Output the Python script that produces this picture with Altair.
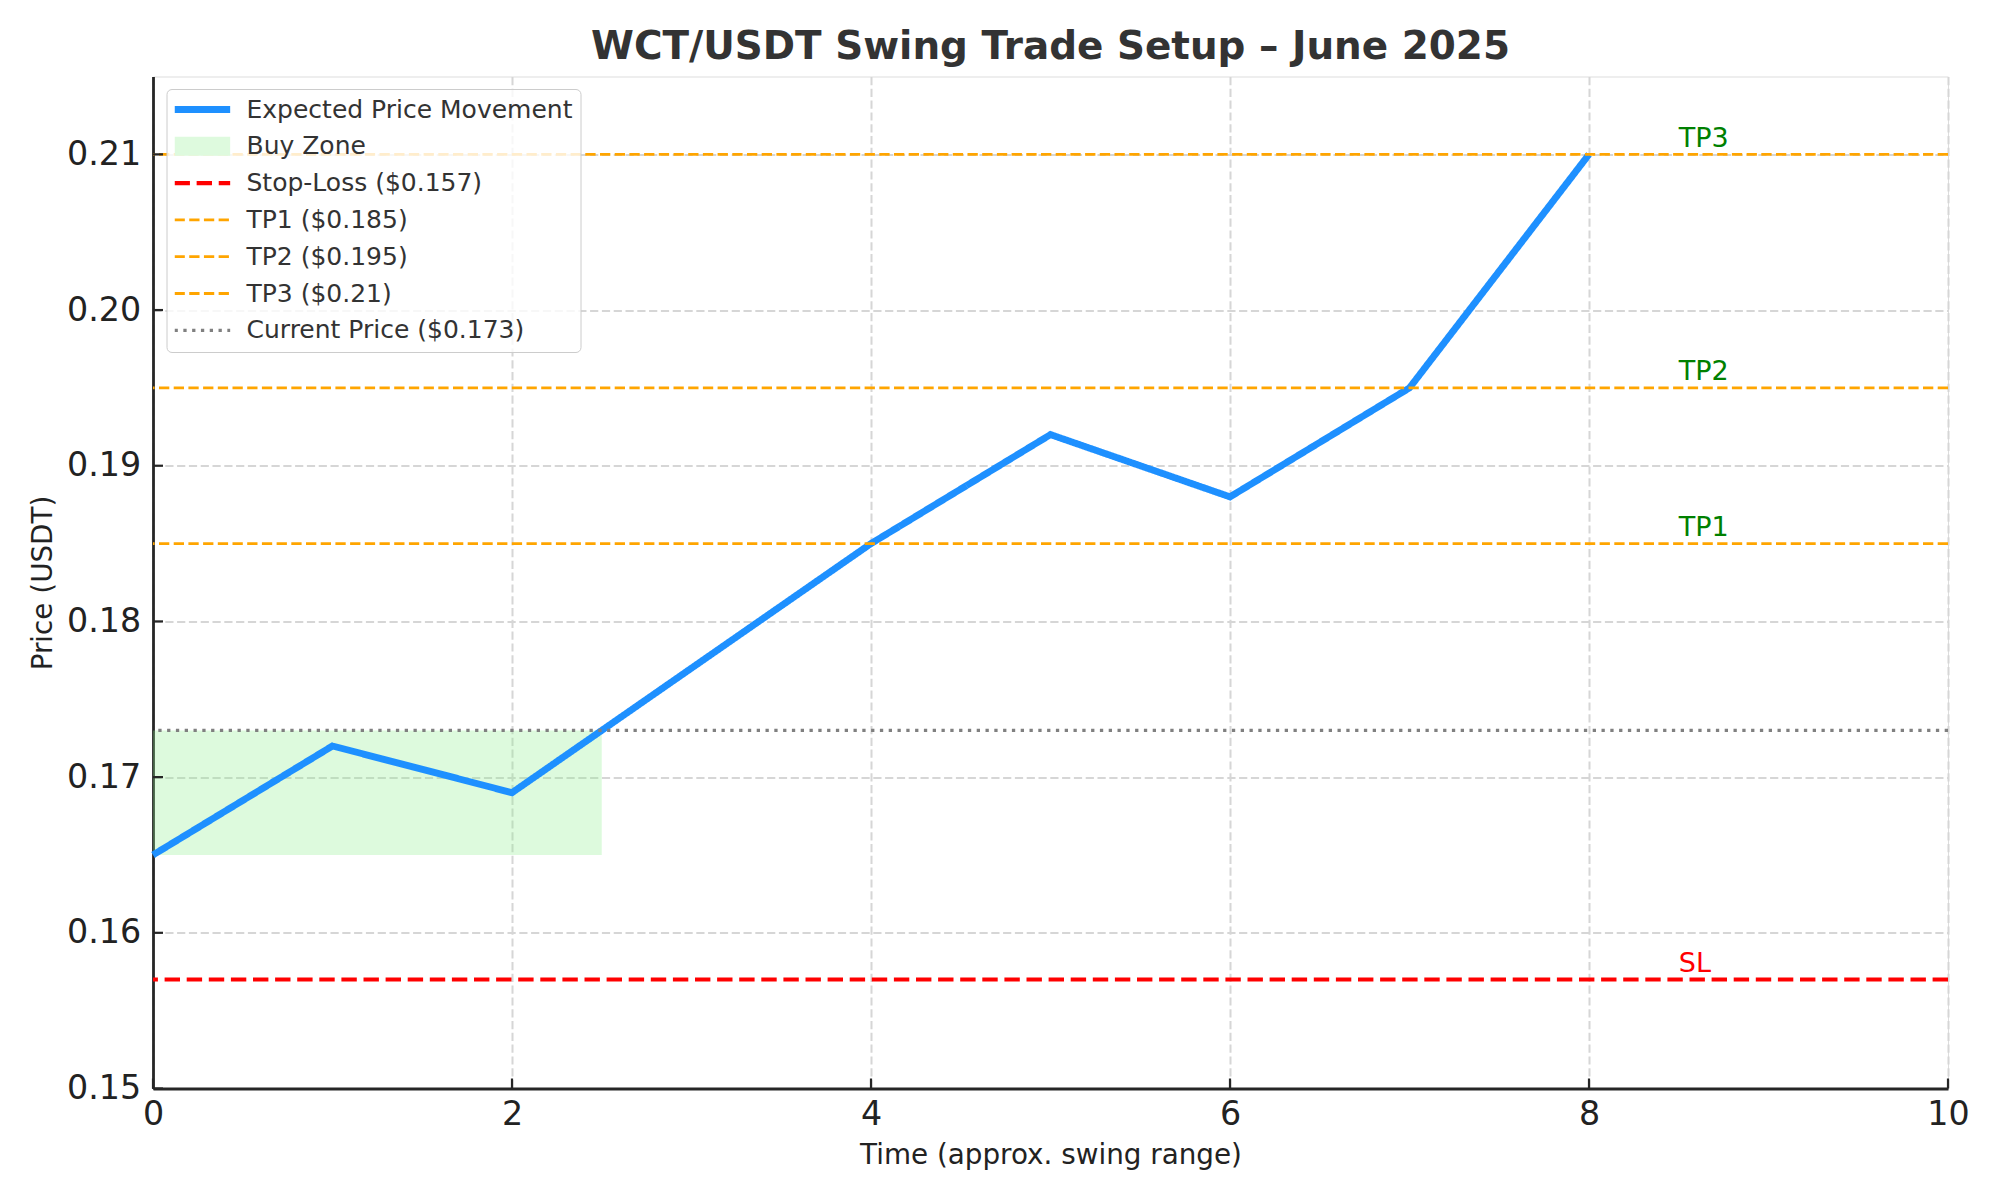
import altair as alt
import pandas as pd

FONT = "DejaVu Sans"

# ---- data ----
time_x = [0, 1, 2, 4, 5, 6, 7, 8]
price_y = [0.165, 0.172, 0.169, 0.185, 0.192, 0.188, 0.195, 0.21]

level_names = ["Stop-Loss ($0.157)", "TP1 ($0.185)", "TP2 ($0.195)", "TP3 ($0.21)", "Current Price ($0.173)"]
level_values = [0.157, 0.185, 0.195, 0.21, 0.173]

zone_x = [0, 2.5]
zone_y = [0.165, 0.173]

ann_text = ["TP1", "TP2", "TP3", "SL"]
ann_x = [8.5, 8.5, 8.5, 8.5]
ann_y = [0.1855, 0.1955, 0.2105, 0.1575]
ann_color = ["green", "green", "green", "red"]

legend_names = ["Expected Price Movement", "Buy Zone"] + level_names
legend_colors = ["#1E90FF", "#DEFADE", "red", "orange", "orange", "orange", "gray"]
legend_dash = [[1, 0], [1, 0], [15.4, 6.7], [10.3, 4.4], [10.3, 4.4], [10.3, 4.4], [3.3, 5.5]]
legend_width = [6.9, 19, 4.2, 2.8, 2.8, 2.8, 3.3]

x_ticks = [0, 2, 4, 6, 8, 10]
y_ticks = [0.15, 0.16, 0.17, 0.18, 0.19, 0.20, 0.21]

W, H = 1795, 1012

# ---- tables ----
line_df = pd.DataFrame({"x": time_x, "y": price_y, "series": legend_names[0]})
level_df = pd.DataFrame({"y": level_values, "series": level_names})
zone_df = pd.DataFrame({"x": [zone_x[0]], "x2": [zone_x[1]], "y": [zone_y[0]], "y2": [zone_y[1]]})
ann_df = pd.DataFrame({"x": ann_x, "y": ann_y, "t": ann_text, "c": ann_color})
xt_df = pd.DataFrame({"x": x_ticks})
yt_df = pd.DataFrame({"y": y_ticks})

x_scale = alt.Scale(domain=[0, 10], nice=False, zero=False)
y_scale = alt.Scale(domain=[0.15, 0.215], nice=False, zero=False)

x_axis = alt.Axis(
    values=x_ticks, title="Time (approx. swing range)", grid=True,
    gridDash=[8.2, 3.6], gridColor="#d6d6d6", gridWidth=2,
    ticks=False, tickSize=0, labelPadding=36, labelBaseline="alphabetic",
    labelFont=FONT, labelFontSize=33.3, labelColor="#222222",
    labelFlush=False, labelOverlap=False,
    domainColor="#262626", domainWidth=2.8,
    titleFont=FONT, titleFontSize=27.8, titleFontWeight="normal", titleColor="#222222",
    titleBaseline="alphabetic", titleY=75,
)
y_axis = alt.Axis(
    values=y_ticks, format=".2f", title="Price (USDT)", grid=True,
    gridDash=[8.2, 3.6], gridColor="#d6d6d6", gridWidth=2,
    ticks=False, tickSize=0, labelPadding=12.4, labelBaseline="middle",
    labelFont=FONT, labelFontSize=33.3, labelColor="#222222",
    labelFlush=False, labelOverlap=False,
    domainColor="#262626", domainWidth=2.8,
    titleFont=FONT, titleFontSize=27.8, titleFontWeight="normal", titleColor="#222222",
    titleBaseline="alphabetic", titleX=-101.3, titleY=H / 2, titleAngle=270,
)

X = alt.X("x:Q", scale=x_scale, axis=x_axis)
Y = alt.Y("y:Q", scale=y_scale, axis=y_axis)

legend = alt.Legend(
    title=None, orient="none", legendX=13.5, legendY=12.5,
    symbolType="M-12,0H12", symbolSize=21.5, symbolOffset=15.35,
    labelOffset=31.65, rowPadding=10.8, padding=8, clipHeight=25,
    labelFont=FONT, labelFontSize=25, labelColor="#333333", labelLimit=500,
    fillColor="rgba(255,255,255,0.8)", strokeColor="#cccccc", cornerRadius=5,
)

color_enc = alt.Color("series:N", scale=alt.Scale(domain=legend_names, range=legend_colors), legend=legend)
dash_enc = alt.StrokeDash("series:N", scale=alt.Scale(domain=legend_names, range=legend_dash), legend=legend)
width_enc = alt.StrokeWidth("series:O", scale=alt.Scale(type="ordinal", domain=legend_names, range=legend_width), legend=legend)

zone = alt.Chart(zone_df).mark_rect(fill="lightgreen", opacity=0.3).encode(
    x=X, x2="x2:Q", y=Y, y2="y2:Q"
)

price_line = alt.Chart(line_df).mark_line().encode(
    x=X, y=Y, color=color_enc, strokeDash=dash_enc, strokeWidth=width_enc
)

levels = alt.Chart(level_df).mark_rule().encode(
    y=Y, color=color_enc, strokeDash=dash_enc, strokeWidth=width_enc
)

labels = alt.Chart(ann_df).mark_text(
    align="left", baseline="alphabetic", font=FONT, fontSize=27
).encode(x=X, y=Y, text="t:N", color=alt.Color("c:N", scale=None))

x_tick_marks = alt.Chart(xt_df).mark_rule(color="#262626", strokeWidth=2.2).encode(
    x=X, y=alt.value(H), y2=alt.value(H - 10)
)
y_tick_marks = alt.Chart(yt_df).mark_rule(color="#262626", strokeWidth=2.2).encode(
    y=Y, x=alt.value(0), x2=alt.value(10)
)

chart = alt.layer(
    zone, price_line, levels, labels, x_tick_marks, y_tick_marks
).properties(
    width=W, height=H,
    title=alt.TitleParams(
        "WCT/USDT Swing Trade Setup \u2013 June 2025",
        font=FONT, fontSize=38.9, fontWeight="bold", color="#333333",
        anchor="middle", frame="group", baseline="alphabetic", offset=16.5, dy=38,
    ),
    autosize=alt.AutoSizeParams(type="none"),
    padding={"left": 145, "top": 68.5, "right": 44, "bottom": 104},
).configure_view(stroke=None).configure(background="white")

chart.save("out.html", embed_options={"renderer": "svg", "actions": False})
